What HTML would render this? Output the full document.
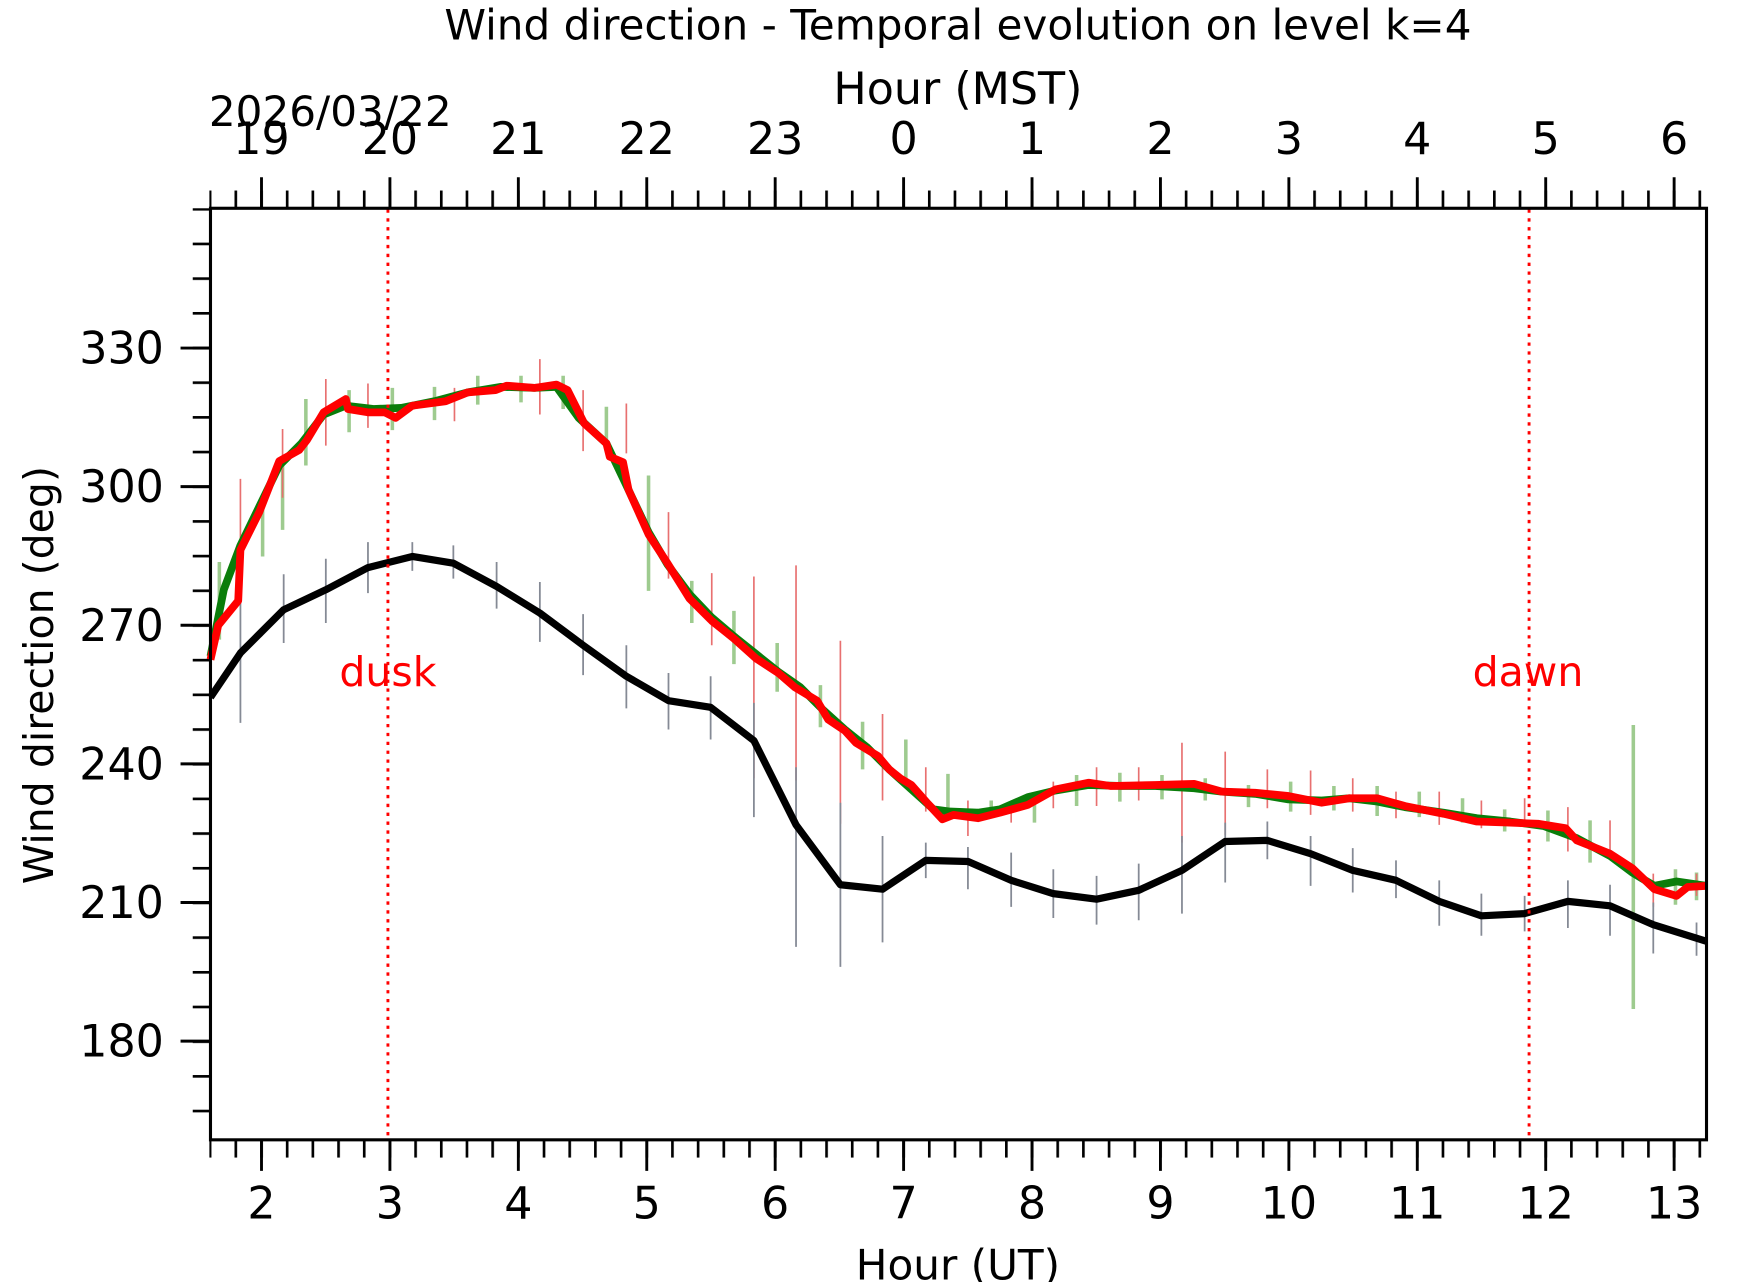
<!DOCTYPE html>
<html><head><meta charset="utf-8"><style>
html,body{margin:0;padding:0;background:#fff;}
svg{display:block;font-family:"DejaVu Sans","Liberation Sans",sans-serif;}
</style></head><body>
<svg width="1742" height="1282" viewBox="-1.8 -1.8 1570.8 1156" xmlns="http://www.w3.org/2000/svg">
<defs>
<pattern id="xm" patternUnits="userSpaceOnUse" x="232.8" y="0" width="23.16" height="2000"><rect x="0" y="0" width="2.4" height="2000" fill="#000"/></pattern>
<pattern id="ym" patternUnits="userSpaceOnUse" x="0" y="310.8" width="2000" height="31.275"><rect x="0" y="0" width="2000" height="2.4" fill="#000"/></pattern>
</defs>
<rect x="-2" y="-2" width="1575" height="1160" fill="#fff"/>
<rect x="187" y="170" width="1351" height="16" fill="url(#xm)"/>
<rect x="187" y="1026" width="1351" height="16" fill="url(#xm)"/>
<rect x="172" y="186" width="16" height="840" fill="url(#ym)"/>
<path stroke="#000" stroke-width="2.6" fill="none" d="M234 186v-28M349.8 186v-28M465.6 186v-28M581.4 186v-28M697.2 186v-28M813 186v-28M928.8 186v-28M1044.6 186v-28M1160.4 186v-28M1276.2 186v-28M1392 186v-28M1507.8 186v-28
M234 1026v28M349.8 1026v28M465.6 1026v28M581.4 1026v28M697.2 1026v28M813 1026v28M928.8 1026v28M1044.6 1026v28M1160.4 1026v28M1276.2 1026v28M1392 1026v28M1507.8 1026v28
M188 312h-27M188 437h-27M188 562h-27M188 687h-27M188 812h-27M188 937h-27"/>
<g stroke="#9ecb8f" stroke-width="3.2">
<path d="M196 505v70M235 450v50M253 412v64M274 358v60M313 350v38M352 348v38M390 347v30M429 337v26M468 337v24M506 337v30M545 365v40M583 427v104M622 522v38M660 549v48M699 578v44M738 616v38M776 649v43M815 665v42M853 696v40M892 720v14M931 713v27M969 697v28M1008 695v26M1046 697v22M1085 700v20M1124 706v20M1162 703v27M1201 707v22M1240 707v27M1278 712v23M1317 718v22M1355 728v20M1394 729v28M1432 738v38M1471 652v256M1509 782v32M1528 785v25"/>
</g>
<g stroke="#e87070" stroke-width="1.5">
<path d="M215 430v90M253 385v62M292 340v60M330 344v40M408 348v30M485 322v50M524 350v55M563 362v45M601 460v60M640 515v65M678 518v182M716 508v194M756 576v165M794 642v78M833 690v40M871 720v32M910 720v20M948 703v24M987 690v35M1025 690v30M1064 668v90M1103 676v75M1141 692v35M1180 693v40M1218 700v30M1257 712v24M1296 712v30M1334 720v25M1373 718v25M1412 726v40M1450 738v30M1489 786v30M1528 786v20"/>
</g>
<g stroke="#858a95" stroke-width="1.6">
<path d="M215 515v135M254 516v62M292 502v58M330 487v46M370 487v26M407 490v30M446 505v42M485 523v54M524 552v55M563 580v57M601 605v51M639 608v57M678 632v103M716 690v162M756 722v148M794 752v96M833 758v32M871 762v38M910 767v49M948 782v44M987 788v44M1025 777v51M1064 752v70M1103 740v54M1141 739v34M1180 752v45M1218 763v40M1257 774v34M1296 792v41M1334 804v38M1373 806v32M1412 792v43M1450 796v46M1489 812v46M1528 830v30"/>
</g>
<polyline fill="none" stroke="#0a7d0a" stroke-width="7" stroke-linejoin="round" points="188,590 200,530 215,490 232,455 250,418 270,398 290,372 310,364 335,367 360,366 390,360 420,352 450,347 480,348 500,347 520,375 545,398 565,440 583,478 600,507 620,534 640,555 660,572 680,588 700,604 720,618 740,638 760,656 780,672 800,692 820,710 840,728 855,730 880,731 900,728 925,717 950,711 980,706 1010,707 1040,707 1075,709 1100,712 1130,714 1160,719 1190,720 1215,718 1240,721 1265,726 1300,731 1330,736 1360,739 1390,743 1420,754 1450,770 1470,785 1490,797 1510,793 1537,797"/>
<polyline fill="none" stroke="#ff0000" stroke-width="7" stroke-linejoin="round" points="188,593 195,562 213,540 215,494 232,460 250,414 268,404 275,395 290,370 310,358 312,367 330,370 345,370 355,375 370,364 400,360 420,352 445,350 455,346 480,348 500,345 510,350 525,380 545,398 548,410 560,415 565,440 583,480 600,506 620,538 640,558 660,574 680,592 700,605 715,618 735,630 745,647 760,657 770,668 790,680 800,692 810,700 820,706 835,723 848,737 858,733 880,736 900,731 925,724 950,710 980,704 1000,707 1040,706 1075,705 1100,712 1130,713 1160,716 1190,722 1215,718 1240,718 1265,725 1300,732 1330,739 1360,740 1385,741 1410,745 1420,756 1450,768 1470,781 1490,800 1510,806 1520,798 1537,797"/>
<polyline fill="none" stroke="#000" stroke-width="6.5" stroke-linejoin="round" points="188,627 215,587 254,548 292,530 330,510 370,500 407,506 446,527 485,551 524,580 563,608 601,630 639,636 678,666 716,742 756,796 794,800 833,774 871,775 910,792 948,804 987,809 1025,801 1064,783 1103,757 1141,756 1180,768 1218,783 1257,792 1296,811 1334,824 1373,822 1412,811 1450,815 1489,832 1537,847"/>
<path stroke="#ff0000" stroke-width="2.6" stroke-dasharray="3,5" d="M348 187V1026M1377 187V1026"/>
<text x="348" y="617" font-size="37" fill="#ff0000" text-anchor="middle">dusk</text>
<text x="1376" y="617" font-size="37" fill="#ff0000" text-anchor="middle">dawn</text>
<rect x="188" y="186" width="1349" height="840" fill="none" stroke="#000" stroke-width="2.8"/>
<g font-size="40" fill="#000" text-anchor="end">
<text x="146" y="326">330</text><text x="146" y="451">300</text><text x="146" y="576">270</text><text x="146" y="701">240</text><text x="146" y="826">210</text><text x="146" y="951">180</text>
</g>
<g font-size="40" fill="#000" text-anchor="middle">
<text x="234" y="1097">2</text><text x="349.8" y="1097">3</text><text x="465.6" y="1097">4</text><text x="581.4" y="1097">5</text><text x="697.2" y="1097">6</text><text x="813" y="1097">7</text><text x="928.8" y="1097">8</text><text x="1044.6" y="1097">9</text><text x="1160.4" y="1097">10</text><text x="1276.2" y="1097">11</text><text x="1392" y="1097">12</text><text x="1507.8" y="1097">13</text>
<text x="234" y="137">19</text><text x="349.8" y="137">20</text><text x="465.6" y="137">21</text><text x="581.4" y="137">22</text><text x="697.2" y="137">23</text><text x="813" y="137">0</text><text x="928.8" y="137">1</text><text x="1044.6" y="137">2</text><text x="1160.4" y="137">3</text><text x="1276.2" y="137">4</text><text x="1392" y="137">5</text><text x="1507.8" y="137">6</text>
</g>
<text x="296" y="112" font-size="38" text-anchor="middle">2026/03/22</text>
<text x="862" y="34" font-size="38" text-anchor="middle">Wind direction - Temporal evolution on level k=4</text>
<text x="862" y="92" font-size="40" text-anchor="middle">Hour (MST)</text>
<text x="862" y="1152" font-size="38" text-anchor="middle">Hour (UT)</text>
<text transform="translate(46,607) rotate(-90)" font-size="37" text-anchor="middle">Wind direction (deg)</text>
</svg>
</body></html>
